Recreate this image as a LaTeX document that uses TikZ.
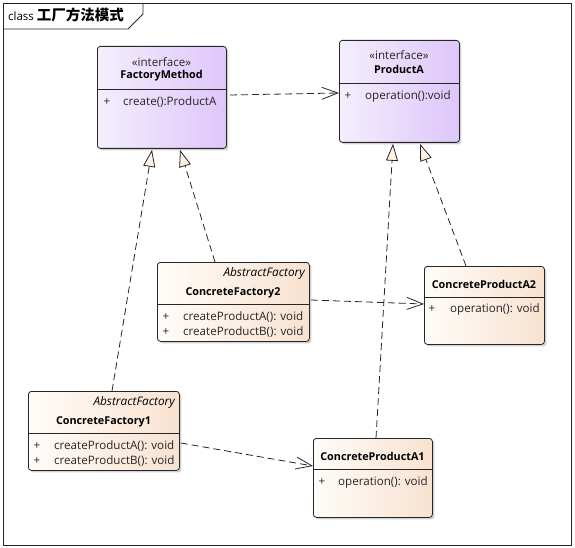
\documentclass[tikz,border=0pt]{standalone}
\usepackage{fontspec}
\setmainfont{Open Sans}
\newfontfamily\cjk{Noto Sans CJK SC}
\usetikzlibrary{arrows.meta,calc,shadows}
\definecolor{ifl}{HTML}{F4EEFD}
\definecolor{ifr}{HTML}{DEC6FA}
\definecolor{ccl}{HTML}{FFFCF9}
\definecolor{ccr}{HTML}{F8E2D0}
\definecolor{tri}{HTML}{FCF2E4}
\definecolor{txt}{HTML}{262626}
\tikzset{
  box/.style={draw=black!85, line width=0.8pt, rounded corners=3pt, inner sep=0pt, anchor=north west,
    drop shadow={shadow xshift=2pt, shadow yshift=-2pt, fill=black!30, opacity=0.6}},
  iface/.style={box, left color=ifl, right color=ifr},
  conc/.style={box, left color=ccl, right color=ccr},
  sep/.style={draw=black!85, line width=0.8pt},
  lbl/.style={inner sep=0pt, font=\fontsize{11.6}{14}\selectfont, text=txt},
  bname/.style={inner sep=0pt, font=\fontsize{10.8}{13}\selectfont\bfseries, text=black},
  abst/.style={inner sep=0pt, font=\fontsize{11.8}{14}\selectfont\itshape, text=black, anchor=east},
  op/.style={lbl, anchor=west},
  dep/.style={draw=black!85, line width=0.8pt, dash pattern=on 7pt off 4pt, -{Straight Barb[length=16pt,width=12pt,line width=0.8pt]}},
  real/.style={draw=black!85, line width=0.8pt, dash pattern=on 7pt off 4pt, -{Triangle[open, length=17pt, width=12pt, fill=tri, line width=0.8pt]}}
}
\begin{document}
\begin{tikzpicture}[x=1pt,y=-1pt]
\useasboundingbox (0,0) rectangle (575,548);
% frame
\draw[line width=0.8pt, black!85] (3,3) rectangle (571,545);
\draw[line width=0.8pt, black!85] (3,29) -- (128,29) -- (143,14) -- (143,3);
\node[anchor=base west, inner sep=0pt] (title) at (8,21) {\fontsize{11.5}{13}\selectfont class \cjk\fontsize{14.5}{16}\selectfont\bfseries 工厂方法模式};

% boxes
\node[iface, minimum width=129pt, minimum height=102pt] (fm) at (97,46) {};
\node[iface, minimum width=120pt, minimum height=102pt] (pa) at (339,40) {};
\node[conc, minimum width=152pt, minimum height=79pt] (cf2) at (157,262) {};
\node[conc, minimum width=120pt, minimum height=78pt] (cpa2) at (424,266) {};
\node[conc, minimum width=151pt, minimum height=79pt] (cf1) at (28,391) {};
\node[conc, minimum width=119pt, minimum height=79pt] (cpa1) at (313,438) {};

% separators
\draw[sep] (97,89) -- (226,89);
\draw[sep] (339,83) -- (459,83);
\draw[sep] (157,304) -- (309,304);
\draw[sep] (424,297) -- (544,297);
\draw[sep] (28,433) -- (179,433);
\draw[sep] (313,469) -- (432,469);

% FactoryMethod
\node[lbl] (fmst) at (161.5,62) {«interface»};
\node[bname] (fmn) at (161.5,76) {FactoryMethod};
\node[lbl] (fmp) at (107,102) {+};
\node[op] (fmo) at (123,102) {create():ProductA};

% ProductA
\node[lbl] (past) at (399,55) {«interface»};
\node[bname] (pan) at (399,69) {ProductA};
\node[lbl] (pap) at (348,96) {+};
\node[op] (pao) at (365,96) {operation():void};

% ConcreteFactory2
\node[abst] (cf2a) at (305,273) {AbstractFactory};
\node[bname] (cf2n) at (233,293) {ConcreteFactory2};
\node[lbl] (cf2p1) at (166,317) {+};
\node[op] (cf2o1) at (183,317) {createProductA(): void};
\node[lbl] (cf2p2) at (166,332) {+};
\node[op] (cf2o2) at (183,332) {createProductB(): void};

% ConcreteProductA2
\node[bname] (cpa2n) at (484,284) {ConcreteProductA2};
\node[lbl] (cpa2p) at (432,309) {+};
\node[op] (cpa2o) at (450,309) {operation(): void};

% ConcreteFactory1
\node[abst] (cf1a) at (175,402) {AbstractFactory};
\node[bname] (cf1n) at (103.5,422) {ConcreteFactory1};
\node[lbl] (cf1p1) at (37,446) {+};
\node[op] (cf1o1) at (54,446) {createProductA(): void};
\node[lbl] (cf1p2) at (37,461) {+};
\node[op] (cf1o2) at (54,461) {createProductB(): void};

% ConcreteProductA1
\node[bname] (cpa1n) at (372.5,456) {ConcreteProductA1};
\node[lbl] (cpa1p) at (322,482) {+};
\node[op] (cpa1o) at (338,482) {operation(): void};

% dependencies
\draw[dep] ($(fm.north east)+(3,49)$) -- ($(pa.north west)+(0,53)$);
\draw[dep] ($(cf2.north east)+(1,38)$) -- ($(cpa2.north west)+(0,38)$);
\draw[dep] ($(cf1.north east)+(1,52)$) -- ($(cpa1.north west)+(0,28)$);

% realizations
\draw[real] ($(cf1.north west)+(84,0)$) -- ($(fm.south west)+(55,1)$);
\draw[real] ($(cf2.north west)+(58,0)$) -- ($(fm.south west)+(83,1)$);
\draw[real] ($(cpa1.north west)+(63,0)$) -- ($(pa.south west)+(54,1)$);
\draw[real] ($(cpa2.north west)+(42,0)$) -- ($(pa.south west)+(81,1)$);
\end{tikzpicture}
\end{document}
